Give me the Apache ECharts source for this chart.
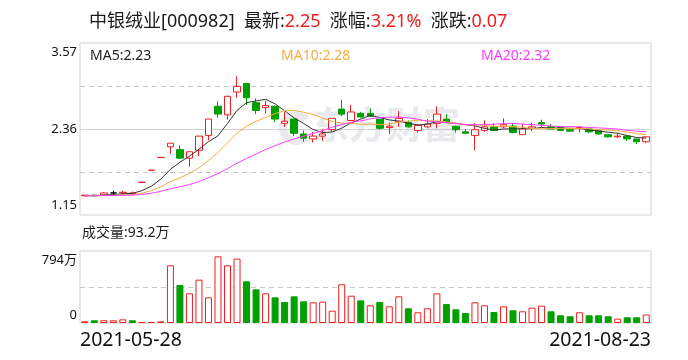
<!DOCTYPE html>
<html><head><meta charset="utf-8">
<script src="https://cdn.jsdelivr.net/npm/echarts@6/dist/echarts.min.js"></script>
<style>html,body{margin:0;padding:0;background:#fff}#c{width:688px;height:360px}</style>
</head><body><div id="c"></div><script>
const dates = ['2021-05-28',
 '2021-06-01','2021-06-02','2021-06-03','2021-06-04','2021-06-07','2021-06-08','2021-06-09','2021-06-10','2021-06-11',
 '2021-06-15','2021-06-16','2021-06-17','2021-06-18','2021-06-21','2021-06-22','2021-06-23','2021-06-24','2021-06-25',
 '2021-06-28','2021-06-29','2021-06-30',
 '2021-07-01','2021-07-02','2021-07-05','2021-07-06','2021-07-07','2021-07-08','2021-07-09','2021-07-12','2021-07-13',
 '2021-07-14','2021-07-15','2021-07-16','2021-07-19','2021-07-20','2021-07-21','2021-07-22','2021-07-23','2021-07-26',
 '2021-07-27','2021-07-28','2021-07-29','2021-07-30',
 '2021-08-02','2021-08-03','2021-08-04','2021-08-05','2021-08-06','2021-08-09','2021-08-10','2021-08-11','2021-08-12',
 '2021-08-13','2021-08-16','2021-08-17','2021-08-18','2021-08-19','2021-08-20','2021-08-23'];
const opens  = [1.42,1.43,1.43,1.46,1.46,1.45,1.61,1.78,1.96,2.11,2.07,1.95,2.06,2.27,2.68,2.56,2.88,3.00,2.73,2.66,2.68,2.44,2.50,2.29,2.22,2.26,2.35,2.64,2.48,2.58,2.58,2.50,2.38,2.47,2.45,2.34,2.39,2.44,2.50,2.40,2.32,2.27,2.34,2.39,2.39,2.40,2.28,2.37,2.45,2.39,2.38,2.35,2.37,2.36,2.34,2.28,2.25,2.26,2.22,2.18];
const closes = [1.43,1.42,1.46,1.46,1.47,1.46,1.61,1.78,1.96,2.16,1.95,2.04,2.26,2.50,2.57,2.82,2.96,2.80,2.62,2.69,2.50,2.47,2.30,2.23,2.26,2.29,2.51,2.57,2.60,2.53,2.54,2.37,2.40,2.51,2.39,2.41,2.43,2.57,2.45,2.35,2.30,2.35,2.39,2.34,2.42,2.31,2.36,2.39,2.43,2.36,2.34,2.33,2.38,2.32,2.29,2.25,2.26,2.22,2.18,2.25];
const lows   = [1.42,1.42,1.43,1.43,1.44,1.44,1.61,1.78,1.96,2.01,1.94,1.83,1.98,2.20,2.52,2.49,2.80,2.70,2.57,2.58,2.46,2.39,2.26,2.18,2.17,2.19,2.33,2.54,2.47,2.52,2.53,2.35,2.29,2.39,2.38,2.31,2.37,2.37,2.44,2.31,2.30,2.06,2.32,2.34,2.37,2.30,2.28,2.33,2.39,2.36,2.33,2.32,2.31,2.30,2.28,2.24,2.23,2.19,2.15,2.16];
const highs  = [1.43,1.43,1.47,1.49,1.49,1.48,1.61,1.78,1.96,2.16,2.13,2.04,2.26,2.50,2.75,2.83,3.10,3.01,2.79,2.76,2.69,2.60,2.50,2.34,2.32,2.36,2.51,2.77,2.70,2.60,2.65,2.50,2.45,2.61,2.48,2.43,2.50,2.68,2.57,2.41,2.36,2.44,2.48,2.44,2.51,2.43,2.43,2.45,2.49,2.43,2.39,2.37,2.40,2.37,2.34,2.29,2.30,2.27,2.22,2.25];
// volume in 万 (10k shares)
const volumes = [18,30,30,30,40,30,10,10,18,636,419,327,478,283,735,636,710,460,371,327,283,232,294,239,228,235,136,427,301,250,195,232,184,294,162,118,162,327,210,151,110,228,195,121,184,140,129,169,191,129,85,74,118,85,85,74,48,63,63,93.2];
// closes before the visible window (needed for moving averages)
const priorCloses = [1.42,1.42,1.42,1.42,1.42,1.42,1.42,1.42,1.42,1.42,1.42,1.42,1.42,1.42,1.42,1.42,1.42,1.42,1.42];
const priceTicks = [1.15, 2.36, 3.57];
const priceGridDashed = [1.755, 2.965];
const priceGridSolid = [2.36];
const volTicks = [0, 794];
const volGridDashed = [397];

const RED = '#f01e1e', GREEN = '#00a000', BLACK = '#000';
const FONT = '"Noto Sans","Noto Sans CJK SC",sans-serif';
const all = priorCloses.concat(closes);
const off = priorCloses.length;
function ma(n){
  return closes.map((c,i)=>{ let s=0; for(let k=0;k<n;k++) s+=all[off+i-k]; return +(s/n).toFixed(4); });
}
const ma5 = ma(5), ma10 = ma(10), ma20 = ma(20);
const last = closes.length-1;
const prevClose = i => all[off+i-1];

const candleData = closes.map((c,i)=>{
  const o = opens[i];
  const item = {value:[o,c,lows[i],highs[i]]};
  if (o === c) {
    const pc = prevClose(i);
    const col = c>pc ? RED : (c<pc ? GREEN : BLACK);
    item.itemStyle = {color:col,color0:col,borderColor:col,borderColor0:col,borderColorDoji:col};
  }
  return item;
});
const volData = volumes.map((v,i)=>{
  const up = closes[i] >= prevClose(i);
  return {value:v, itemStyle: up ? {color:'#fff',borderColor:RED,borderWidth:1} : {color:GREEN,borderColor:GREEN,borderWidth:1}};
});

const latest = closes[last].toFixed(2);
const chg = (closes[last]-closes[last-1]).toFixed(2);
const pct = ((closes[last]-closes[last-1])/closes[last-1]*100).toFixed(2);

const DASHC = '#c8c8c8', SOLIDC = '#d0d0d0';
const watermark = [
  {type:'text', left:312, top:106, z:-10, silent:true,
   style:{text:'东方财富', font:'bold 37px "Noto Sans CJK SC"', fill:'#e9e9ee'}},
  {type:'arc', z:-10, silent:true, shape:{cx:296, cy:128, r:13, startAngle:0.6, endAngle:5.6},
   style:{stroke:'#e9e9ee', lineWidth:8, fill:null}}
];

const chart = echarts.init(document.getElementById('c'), null, {renderer:'canvas'});
const hidden = {axisLine:{show:false},axisTick:{show:false},axisLabel:{show:false},splitLine:{show:false}};
chart.setOption({
  animation:false,
  backgroundColor:'#fff',
  textStyle:{fontFamily:FONT},
  title:[
    {text:`中银绒业[000982]  最新:{r|${latest}}  涨幅:{r|${pct}%}  涨跌:{r|${chg}}`, left:89, top:13, padding:0,
     textStyle:{fontSize:18,fontWeight:'normal',color:'#1a1a1a',fontFamily:FONT,
       rich:{r:{color:RED,fontSize:18,fontFamily:FONT}}}},
    {text:'MA5:'+ma5[last].toFixed(2), left:90, top:49, padding:0, textStyle:{fontSize:14,fontWeight:'normal',color:'#222',fontFamily:FONT}},
    {text:'MA10:'+ma10[last].toFixed(2), left:281, top:49, padding:0, textStyle:{fontSize:14,fontWeight:'normal',color:'#f7ad3e',fontFamily:FONT}},
    {text:'MA20:'+ma20[last].toFixed(2), left:481, top:49, padding:0, textStyle:{fontSize:14,fontWeight:'normal',color:'#ff3cff',fontFamily:FONT}},
    {text:'成交量:'+volumes[last]+'万', left:82, top:226, padding:0, textStyle:{fontSize:14,fontWeight:'normal',color:'#1a1a1a',fontFamily:FONT}}
  ],
  graphic: watermark,
  grid:[
    {left:80, width:571, top:43, height:172, show:true, borderColor:'#d3d3db', borderWidth:1},
    {left:80, width:571, top:251, height:72, show:true, borderColor:'#d3d3db', borderWidth:1}
  ],
  xAxis:[
    Object.assign({type:'category', gridIndex:0, data:dates, boundaryGap:true}, hidden),
    Object.assign({type:'category', gridIndex:1, data:dates, boundaryGap:true}, hidden),
    {type:'category', gridIndex:1, data:dates, boundaryGap:false, position:'bottom',
     axisLine:{show:false}, axisTick:{show:false}, splitLine:{show:false},
     axisLabel:{show:true, interval:(i)=> i===0 || i===dates.length-1, alignMinLabel:'left', alignMaxLabel:'right',
       fontSize:19.5, color:'#111', margin:8, fontFamily:FONT}}
  ],
  yAxis:[
    {type:'value', gridIndex:0, min:1.15, max:3.57, position:'left',
     axisLine:{show:false}, axisTick:{show:false}, splitLine:{show:false},
     axisLabel:{show:true, customValues:priceTicks, margin:3, fontSize:13, color:'#111', fontFamily:FONT,
       formatter:(v)=>{ const s=v.toFixed(2); return v>=3.5 ? `{t|${s}}` : (v<=1.2 ? `{b|${s}}` : `{m|${s}}`); },
       rich:{t:{padding:[19,0,0,0],fontSize:13,color:'#111',fontFamily:FONT},
             b:{padding:[0,0,19,0],fontSize:13,color:'#111',fontFamily:FONT},
             m:{fontSize:13,color:'#111',fontFamily:FONT}}}},
    {type:'value', gridIndex:1, min:0, max:794, position:'left',
     axisLine:{show:false}, axisTick:{show:false}, splitLine:{show:false},
     axisLabel:{show:true, customValues:volTicks, margin:3, fontSize:13, color:'#111', fontFamily:FONT,
       formatter:(v)=> v===0 ? '{b|0}' : `{t|${v}万}`,
       rich:{t:{padding:[19,0,0,0],fontSize:13,color:'#111',fontFamily:FONT},
             b:{padding:[0,0,16,0],fontSize:13,color:'#111',fontFamily:FONT}}}}
  ],
  series:[
    {type:'candlestick', xAxisIndex:0, yAxisIndex:0, data:candleData, barWidth:7, z:2,
     itemStyle:{color:'#fff', color0:GREEN, borderColor:RED, borderColor0:GREEN, borderWidth:1}},
    {type:'line', xAxisIndex:0, yAxisIndex:0, data:ma5, symbol:'none', lineStyle:{width:1,color:'#333'}, z:3},
    {type:'line', xAxisIndex:0, yAxisIndex:0, data:ma10, symbol:'none', lineStyle:{width:1,color:'#f7ad3e'}, z:3},
    {type:'line', xAxisIndex:0, yAxisIndex:0, data:ma20, symbol:'none', lineStyle:{width:1,color:'#ff3cff'}, z:3},
    {type:'bar', xAxisIndex:1, yAxisIndex:1, data:volData, barWidth:7, z:2}
  ]
});

// horizontal grid lines, positioned through the axes' own scales
const xL = chart.convertToPixel({xAxisIndex:2}, dates[0]);
const xR = chart.convertToPixel({xAxisIndex:2}, dates[last]);
function hline(yAxisIndex, v, dashed){
  const y = Math.round(chart.convertToPixel({yAxisIndex:yAxisIndex}, v)) + 0.5;
  return {type:'line', z:1, silent:true,
    shape:{x1:xL, y1:y, x2:xR, y2:y},
    style:{stroke: dashed ? DASHC : SOLIDC, lineWidth:1, lineDash: dashed ? [5,4] : null}};
}
const gridLines = []
  .concat(priceGridDashed.map(v=>hline(0, v, true)))
  .concat(priceGridSolid.map(v=>hline(0, v, false)))
  .concat(volGridDashed.map(v=>hline(1, v, true)));
chart.setOption({graphic: watermark.concat(gridLines)});
</script></body></html>
